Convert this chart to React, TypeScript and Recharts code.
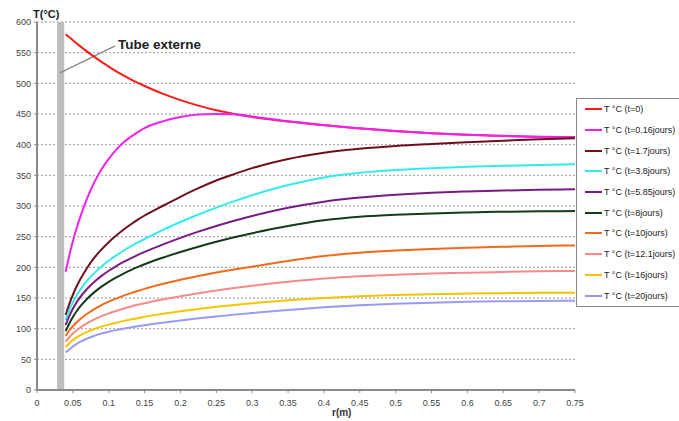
import React from 'react';
import { LineChart, Line, XAxis, YAxis, CartesianGrid, ReferenceArea, ReferenceLine, Legend } from 'recharts';

const rValues = [0.04, 0.045, 0.05, 0.055, 0.06, 0.07, 0.08, 0.09, 0.1, 0.11, 0.12, 0.13, 0.14, 0.15, 0.175, 0.2, 0.225, 0.25, 0.275, 0.3, 0.35, 0.4, 0.45, 0.5, 0.55, 0.6, 0.65, 0.7, 0.75];

const tInit = [580, 575, 570.2, 565.4, 560.7, 551.7, 543.1, 535, 527.3, 520, 513.3, 507, 501.1, 495.7, 483.2, 472.7, 463.7, 456.2, 450.1, 445.1, 437.6, 431.6, 426.6, 422.1, 418.6, 416.1, 414.4, 413.1, 412.4];
const t016 = [193, 219, 242.5, 263, 281, 313, 339, 360, 377, 391, 403, 412, 420, 427, 438, 445, 449, 450, 449.5, 446, 438, 432, 426.5, 422, 418.5, 416, 414, 412.7, 412];
const t17 = [122, 140, 155.3, 168.3, 179.7, 199.4, 215.7, 229.2, 241, 251.4, 260.8, 269.4, 277.3, 284.5, 300, 315, 329, 341.5, 352, 361.7, 376.7, 387, 393.5, 398, 401.2, 404, 406.5, 408.8, 410.5];
const t38 = [114, 130, 143, 153.8, 163, 178.5, 191, 201.5, 210.7, 219, 226.6, 233.6, 240.1, 246.2, 260.7, 273.9, 286.2, 297.4, 307.9, 317.6, 334.1, 346.6, 354.1, 358.6, 361.6, 363.9, 365.6, 367, 368.1];
const t585 = [106, 120.5, 132.5, 142.5, 151, 165, 176.5, 186.1, 194.4, 201.7, 208.3, 214.3, 219.9, 225.1, 237.1, 248.1, 258.2, 267.5, 276, 283.7, 297, 307, 313.7, 318.2, 321.5, 323.7, 325.3, 326.4, 327.2];
const t8 = [96, 108.5, 119, 128, 135.8, 148.8, 159.6, 168.6, 176.4, 183.3, 189.5, 195.1, 200.3, 205.1, 215.6, 225.1, 233.7, 241.6, 248.9, 255.6, 267.4, 276.6, 282.4, 285.6, 287.9, 289.5, 290.6, 291.3, 291.7];
const t10 = [88, 97, 104, 110, 115.3, 124.3, 131.9, 138.4, 144, 149, 153.5, 157.6, 161.4, 164.9, 172.7, 179.7, 185.9, 191.5, 196.5, 201, 210.3, 218.3, 223.8, 227.3, 230, 232, 233.5, 234.8, 235.8];
const t121 = [79, 86, 92, 97, 101.5, 109, 115.2, 120.4, 124.9, 128.9, 132.5, 135.8, 138.9, 141.6, 147.6, 153, 157.9, 162.3, 166.4, 170.1, 176.6, 181.9, 185.6, 188.1, 189.9, 191.1, 192.5, 193.5, 194];
const t16 = [70, 76.3, 81.3, 85.5, 89.1, 94.9, 99.5, 103.3, 106.6, 109.6, 112.3, 114.8, 117.1, 119.3, 124.1, 128.3, 132.1, 135.6, 138.7, 141.5, 146.3, 150, 152.8, 154.8, 156.2, 157.2, 157.9, 158.4, 158.7];
const t20 = [61, 66, 70.8, 74.9, 78.4, 84, 88.4, 92, 95, 97.6, 99.9, 102, 103.9, 105.7, 109.8, 113.5, 116.9, 120, 122.9, 125.5, 130.5, 134.8, 138, 140.5, 142.4, 143.7, 144.7, 145.3, 145.7];

const seriesValues = [tInit, t016, t17, t38, t585, t8, t10, t121, t16, t20];
const seriesNames = [
  'T °C (t=0)',
  'T °C (t=0.16jours)',
  'T °C (t=1.7jours)',
  'T °C (t=3.8jours)',
  'T °C (t=5.85jours)',
  'T °C (t=8jours)',
  'T °C (t=10jours)',
  'T °C (t=12.1jours)',
  'T °C (t=16jours)',
  'T °C (t=20jours)',
];
const seriesColors = ['#ff1a1a', '#f020f0', '#6e0f1e', '#33ebeb', '#7a1a85', '#163a1c', '#f26a1b', '#f48a8a', '#f5c400', '#9a9af5'];

const xTicks = [0, 0.05, 0.1, 0.15, 0.2, 0.25, 0.3, 0.35, 0.4, 0.45, 0.5, 0.55, 0.6, 0.65, 0.7, 0.75];
const yTicks = [0, 50, 100, 150, 200, 250, 300, 350, 400, 450, 500, 550, 600];

const tubeBand = [0.028, 0.038];
const annotationSegment = [
  { x: 0.032, y: 517 },
  { x: 0.109, y: 561 },
];

const data = rValues.map((r, i) => {
  const row: Record<string, number> = { r };
  seriesValues.forEach((s, k) => {
    row['s' + k] = s[i];
  });
  return row;
});

const font = '"Liberation Sans", Arial, sans-serif';

const renderLegend = () => (
  <div
    style={{
      width: 110,
      height: 209,
      border: '1px solid #8a8a8a',
      background: '#fff',
      boxSizing: 'border-box',
      fontFamily: font,
      fontSize: 9,
      color: '#222',
    }}
  >
    {seriesNames.map((name, i) => (
      <div key={name} style={{ height: 20.7, display: 'flex', alignItems: 'center', whiteSpace: 'nowrap' }}>
        <span
          style={{ display: 'inline-block', width: 17, height: 2, background: seriesColors[i], marginLeft: 8, marginRight: 2 }}
        />
        <span>{name}</span>
      </div>
    ))}
  </div>
);

export default function App() {
  return (
    <div style={{ position: 'absolute', left: 0, top: 0, width: 679, height: 421, background: '#fff', overflow: 'hidden' }}>
      <LineChart width={679} height={421} data={data} margin={{ top: 22, right: 104, bottom: 0, left: 0 }}>
        <CartesianGrid vertical={false} strokeDasharray="2 2" stroke="#9a9a9a" />
        <ReferenceArea x1={tubeBand[0]} x2={tubeBand[1]} y1={0} y2={600} fill="#bdbdbd" fillOpacity={1} stroke="none" />
        <XAxis
          dataKey="r"
          type="number"
          domain={[0, 0.75]}
          ticks={xTicks}
          tickFormatter={(v: number) => String(v)}
          height={31}
          tickSize={3}
          tickMargin={7}
          axisLine={{ stroke: '#8a8a8a', strokeWidth: 2 }}
          tickLine={{ stroke: '#8a8a8a' }}
          tick={{ fontSize: 9, fill: '#444', fontFamily: font }}
          interval={0}
        />
        <YAxis
          type="number"
          domain={[0, 600]}
          ticks={yTicks}
          width={37}
          tickSize={3}
          tickMargin={3}
          axisLine={{ stroke: '#8a8a8a', strokeWidth: 2 }}
          tickLine={{ stroke: '#8a8a8a' }}
          tick={{ fontSize: 9, fill: '#444', fontFamily: font }}
          interval={0}
        />
        <ReferenceLine segment={annotationSegment} stroke="#8a8a8a" strokeWidth={1.5} ifOverflow="visible" />
        {seriesNames.map((name, k) => (
          <Line
            key={name}
            type="monotone"
            dataKey={'s' + k}
            name={name}
            stroke={seriesColors[k]}
            strokeWidth={2}
            dot={false}
            activeDot={false}
            isAnimationActive={false}
          />
        ))}
        <Legend
          layout="horizontal"
          verticalAlign="middle"
          align="center"
          content={renderLegend}
          wrapperStyle={{ left: 576, top: 98, width: 110, height: 209 }}
        />
      </LineChart>
      <div style={{ position: 'absolute', left: 33, top: 8, fontFamily: font, fontWeight: 'bold', fontSize: 11, color: '#222' }}>T(°C)</div>
      <div style={{ position: 'absolute', left: 118, top: 37, fontFamily: font, fontWeight: 'bold', fontSize: 13.5, color: '#222' }}>Tube externe</div>
      <div style={{ position: 'absolute', left: 332, top: 407, fontFamily: font, fontWeight: 'bold', fontSize: 10, color: '#333' }}>r(m)</div>
    </div>
  );
}
